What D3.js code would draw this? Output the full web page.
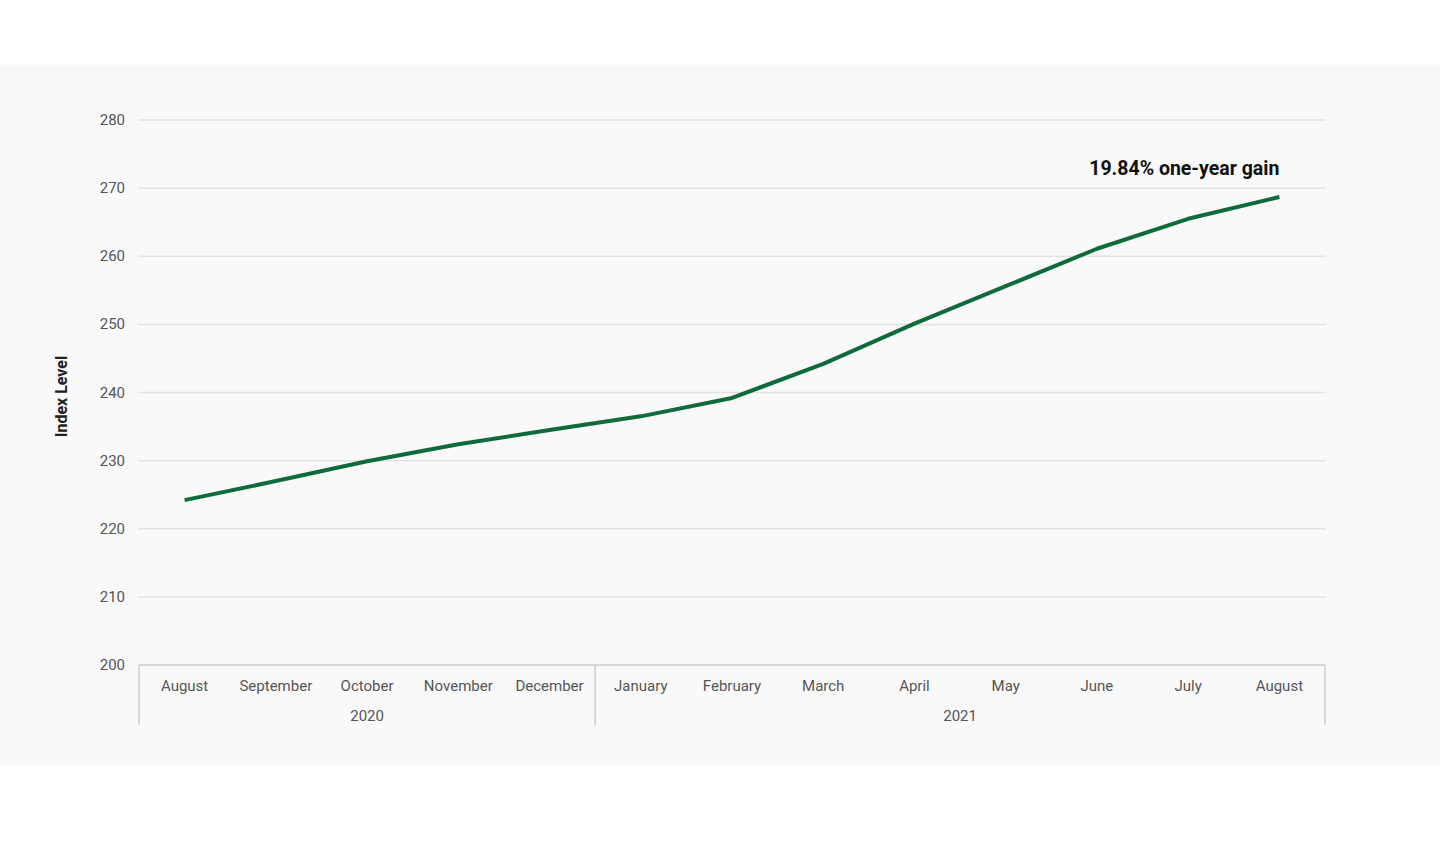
<!DOCTYPE html>
<html><head><meta charset="utf-8">
<script src="https://cdn.jsdelivr.net/npm/d3@7"></script>
<style>body{margin:0;background:#fff;font-family:Roboto,sans-serif}</style>
</head><body><svg id="c" width="1440" height="842"></svg>
<script>
const months = ["August","September","October","November","December","January","February","March","April","May","June","July","August"];
const values = [224.2,227.0,229.9,232.4,234.5,236.5,239.2,244.2,250.1,255.6,261.1,265.5,268.7];
const years = [{label:"2020",from:0,to:5},{label:"2021",from:5,to:13}];
const yTicks = [200,210,220,230,240,250,260,270,280];
const annotation = "19.84% one-year gain";

const svg = d3.select("#c");
svg.append("rect").attr("x",0).attr("y",65).attr("width",1440).attr("height",700).attr("fill","#f9f9f9");
const L=139,R=1325,T=120,B=665;
const x = d3.scaleBand().domain(d3.range(months.length)).range([L,R]);
const y = d3.scaleLinear().domain([200,280]).range([B,T]);

const g = svg.append("g");
g.selectAll(".grid").data(yTicks.filter(d=>d>200)).join("line")
 .attr("x1",L).attr("x2",R).attr("y1",d=>y(d)).attr("y2",d=>y(d))
 .attr("stroke","#e2e2e2").attr("stroke-width",1.5);
g.selectAll(".yt").data(yTicks).join("text")
 .attr("x",125).attr("y",d=>y(d)+5).attr("text-anchor","end")
 .attr("font-size",15).attr("fill","#555").text(d=>d);
g.append("line").attr("x1",L).attr("x2",R).attr("y1",B).attr("y2",B).attr("stroke","#ccc").attr("stroke-width",1.5);
const seps=[0,5,13].map(i=>i===13?R:x(i));
g.selectAll(".sep").data(seps).join("line").attr("x1",d=>d).attr("x2",d=>d).attr("y1",B).attr("y2",725).attr("stroke","#ccc").attr("stroke-width",1.5);
g.selectAll(".xt").data(months).join("text")
 .attr("x",(d,i)=>x(i)+x.bandwidth()/2).attr("y",691).attr("text-anchor","middle")
 .attr("font-size",15).attr("fill","#555").text(d=>d);
g.selectAll(".yr").data(years).join("text")
 .attr("x",d=>((x(d.from))+(d.to===13?R:x(d.to)))/2).attr("y",721).attr("text-anchor","middle")
 .attr("font-size",15).attr("fill","#555").text(d=>d.label);
g.append("text").attr("transform",`translate(67,${(T+B)/2+4}) rotate(-90)`).attr("text-anchor","middle")
 .attr("font-size",16).attr("font-weight","bold").attr("fill","#222").text("Index Level");
const line = d3.line().x((d,i)=>x(i)+x.bandwidth()/2).y(d=>y(d));
g.append("path").datum(values).attr("d",line).attr("fill","none").attr("stroke","#0f6b3a").attr("stroke-width",4).attr("stroke-linejoin","round");
g.append("text").attr("x",x(12)+x.bandwidth()/2).attr("y",y(values[12])-22).attr("text-anchor","end")
 .attr("font-size",19.5).attr("font-weight","bold").attr("fill","#111").text(annotation);
</script></body></html>
